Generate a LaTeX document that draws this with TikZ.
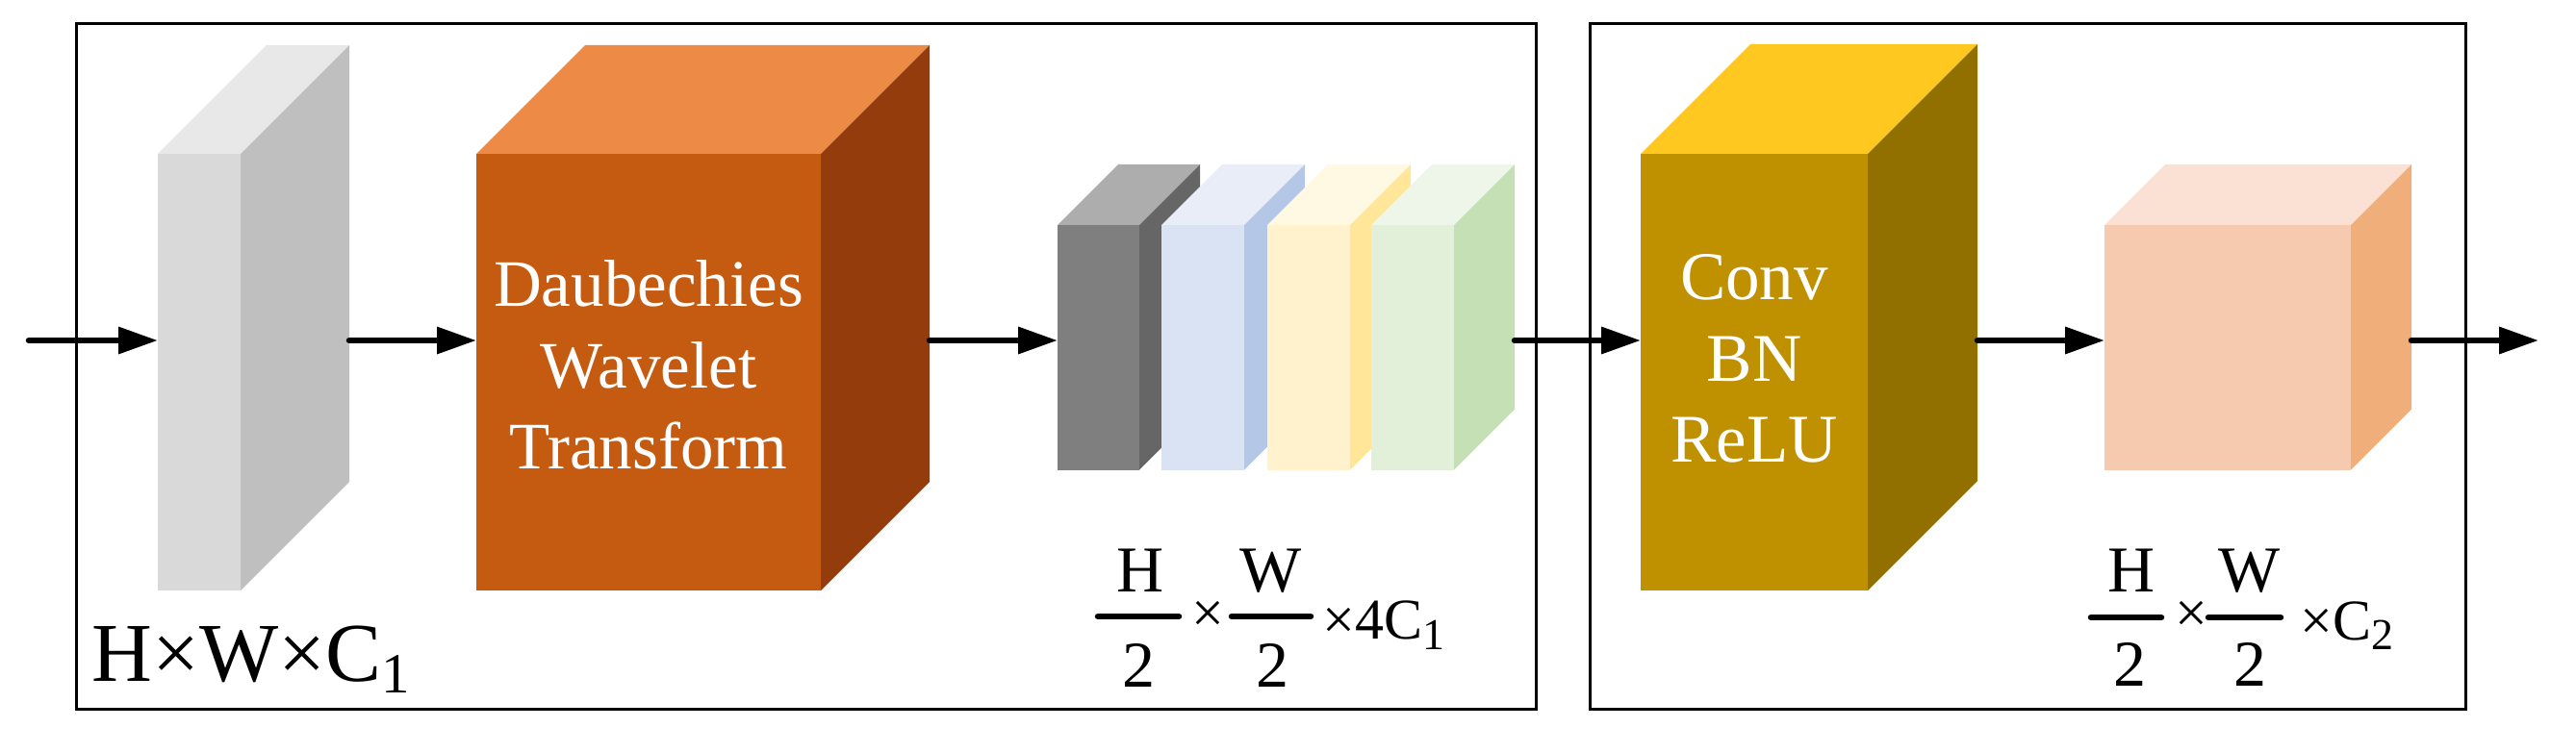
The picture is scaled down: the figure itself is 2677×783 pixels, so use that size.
\documentclass[tikz,border=0pt]{standalone}
\usepackage{fontspec}
\setmainfont{Liberation Serif}
\usetikzlibrary{arrows.meta,calc}
\definecolor{g1f}{HTML}{D9D9D9}\definecolor{g1s}{HTML}{BFBFBF}\definecolor{g1t}{HTML}{E8E8E8}
\definecolor{orf}{HTML}{C55A11}\definecolor{ors}{HTML}{943C0C}\definecolor{ort}{HTML}{ED8A45}
\definecolor{dgf}{HTML}{7F7F7F}\definecolor{dgs}{HTML}{666666}\definecolor{dgt}{HTML}{ADADAD}
\definecolor{blf}{HTML}{DAE3F3}\definecolor{bls}{HTML}{B4C7E7}\definecolor{blt}{HTML}{E8EDF8}
\definecolor{ylf}{HTML}{FFF2CC}\definecolor{yls}{HTML}{FFE699}\definecolor{ylt}{HTML}{FFF9E3}
\definecolor{grf}{HTML}{E2F0D9}\definecolor{grs}{HTML}{C5E0B4}\definecolor{grt}{HTML}{EEF6EA}
\definecolor{gdf}{HTML}{BF9000}\definecolor{gds}{HTML}{917000}\definecolor{gdt}{HTML}{FFC820}
\definecolor{pcf}{HTML}{F6CAAF}\definecolor{pcs}{HTML}{F0AE7A}\definecolor{pct}{HTML}{FAE1D3}
\newcommand{\mkcube}[9]{%
  \node[face, fill=#7, minimum width=#4pt, minimum height=#5pt, anchor=north west] (#1) at (#2,#3) {};
  \fill[#9] (#1.north west) -- ++(#6,-#6) -- ++(#4,0) -- (#1.north east) -- cycle;
  \fill[#8] (#1.north east) -- ++(#6,-#6) -- ++(0,#5) -- (#1.south east) -- cycle;
  \coordinate (#1-r) at ([xshift=#6pt]#1.east);
}
\begin{document}
\begin{tikzpicture}[x=1pt,y=-1pt,
  face/.style={inner sep=0pt, outer sep=0pt, draw=none},
  frame/.style={draw=black, line width=3pt, inner sep=0pt, outer sep=0pt, anchor=north west},
  arr/.style={line width=6.5pt, line cap=round, -{Triangle[length=41pt,width=27pt]}},
  bar/.style={line width=6.5pt, line cap=round},
  bigtxt/.style={text=white, align=center, inner sep=0pt},
  fr/.style={font=\fontsize{68}{68}\selectfont, inner sep=0pt, anchor=base},
  mid/.style={font=\fontsize{60}{60}\selectfont, inner sep=0pt}]
\useasboundingbox (0,0) rectangle (2677,783);
% frames
\node[frame, minimum width=1516.5pt, minimum height=712pt] (box1) at (79.5,25) {};
\node[frame, minimum width=910pt, minimum height=712pt] (box2) at (1652,25) {};
% cubes
\mkcube{gray}{164}{160}{86}{454}{113}{g1f}{g1s}{g1t}
\mkcube{dwt}{495}{160}{358}{454}{113}{orf}{ors}{ort}
\mkcube{s1}{1099}{234}{85}{254.5}{63}{dgf}{dgs}{dgt}
\mkcube{s2}{1207}{234}{86}{254.5}{63}{blf}{bls}{blt}
\mkcube{s3}{1317}{234}{86}{254.5}{63}{ylf}{yls}{ylt}
\mkcube{s4}{1425}{234}{86}{254.5}{63}{grf}{grs}{grt}
\mkcube{cbr}{1705}{160}{236}{454}{114}{gdf}{gds}{gdt}
\mkcube{outc}{2187}{234}{256}{254.5}{63}{pcf}{pcs}{pct}
% texts in cubes
\node[bigtxt, font=\fontsize{69}{84.5}\selectfont] (dwt-t) at ([yshift=7.5pt]dwt.center) {Daubechies\\Wavelet\\Transform};
\node[bigtxt, font=\fontsize{71}{84.5}\selectfont] (cbr-t) at ([yshift=14pt]cbr.center) {Conv\\BN\\ReLU};
% arrows
\coordinate (axis) at (0,354);
\coordinate (in) at (30,354);
\coordinate (out) at (2638,354);
\draw[arr] (in) -- (gray.west |- axis);
\draw[arr] (gray-r |- axis) -- (dwt.west |- axis);
\draw[arr] (dwt-r |- axis) -- (s1.west |- axis);
\draw[arr] (s4-r |- axis) -- (cbr.west |- axis);
\draw[arr] (cbr-r |- axis) -- (outc.west |- axis);
\draw[arr] (outc-r |- axis) -- (out);
% label 1
\node[anchor=base west, inner sep=0pt, font=\fontsize{87}{87}\selectfont] (lab1) at (95.5,708) {H×W×C\raisebox{-12pt}{\fontsize{59}{59}\selectfont 1}};
% label 2
\node[fr] (l2-h) at (1185,615) {H};
\node[fr] (l2-hd) at (1183,714) {2};
\draw[bar] (1141,641) -- (1225,641);
\node[mid] (l2-x) at (1255,641) {×};
\node[fr] (l2-w) at (1321,615) {W};
\node[fr] (l2-wd) at (1322,714) {2};
\draw[bar] (1280,641) -- (1362,641);
\node[mid, anchor=base west] (l2-r) at (1374,664) {×4C\raisebox{-11pt}{\fontsize{46}{46}\selectfont 1}};
% label 3
\node[fr] (l3-h) at (2215,615) {H};
\node[fr] (l3-hd) at (2213,713) {2};
\draw[bar] (2173,642) -- (2246,642);
\node[mid] (l3-x) at (2277.5,641) {×};
\node[fr] (l3-w) at (2338,615) {W};
\node[fr] (l3-wd) at (2338,713) {2};
\draw[bar] (2295,642) -- (2370,642);
\node[mid, anchor=base west] (l3-r) at (2390,665) {×C\raisebox{-10pt}{\fontsize{46}{46}\selectfont 2}};
\end{tikzpicture}
\end{document}
